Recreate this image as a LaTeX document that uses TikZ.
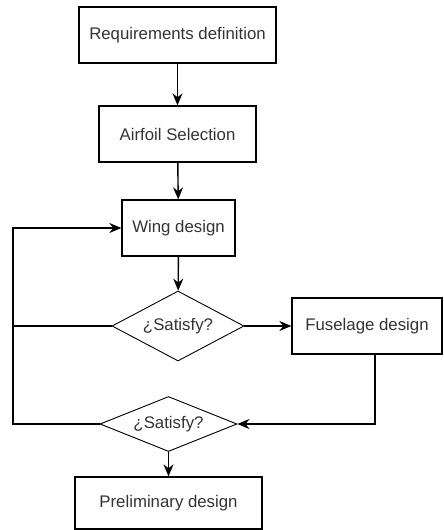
\documentclass[tikz,border=0pt]{standalone}
\usepackage{fontspec}
\setmainfont{Liberation Sans}
\usepackage{tikz}
\usetikzlibrary{shapes.geometric,arrows.meta,positioning}

\begin{document}
\begin{tikzpicture}[x=1pt,y=-1pt,
    stepbox/.style={rectangle,draw,line width=1.3pt,text=black!80,font=\fontsize{16.8}{19}\selectfont,inner sep=0pt},
    askbox/.style={diamond,draw,line width=0.9pt,text=black!80,font=\fontsize{16.8}{19}\selectfont,inner sep=0pt},
    arr/.style={-{Stealth[length=12pt,width=10pt]},line width=1.4pt}]
\useasboundingbox (0,0) rectangle (444,530);
\node[stepbox,minimum width=197pt,minimum height=56pt] (req) at (177.5,35) {Requirements definition};
\node[stepbox,minimum width=157pt,minimum height=56pt] (air) at (177.5,134) {Airfoil Selection};
\node[stepbox,minimum width=113pt,minimum height=56pt] (wing) at (178.5,228) {Wing design};
\node[askbox,aspect=1.9,minimum width=132pt,minimum height=70pt] (sat1) at (178,326) {¿Satisfy?};
\node[stepbox,minimum width=150pt,minimum height=56pt] (fus) at (367,326) {Fuselage design};
\node[askbox,aspect=2.5,minimum width=137pt,minimum height=55pt] (sat2) at (168.5,424) {¿Satisfy?};
\node[stepbox,minimum width=187pt,minimum height=52pt] (pre) at (168.5,503) {Preliminary design};
\coordinate (loop) at (13,0);
% main chain
\draw[arr] (req) -- (air);
\draw[arr] (air) -- (wing);
\draw[arr] (wing) -- (sat1);
\draw[arr] (sat1) -- (fus);
\draw[arr] (sat2) -- (pre);
% feedback
\draw[arr] ([xshift=8pt]fus.south) |- (sat2.east);
\draw[line width=1.4pt] (sat1.west) -- (sat1.west -| loop);
\draw[arr] (sat2.west) -| (loop |- wing.west) -- (wing.west);
\end{tikzpicture}
\end{document}
